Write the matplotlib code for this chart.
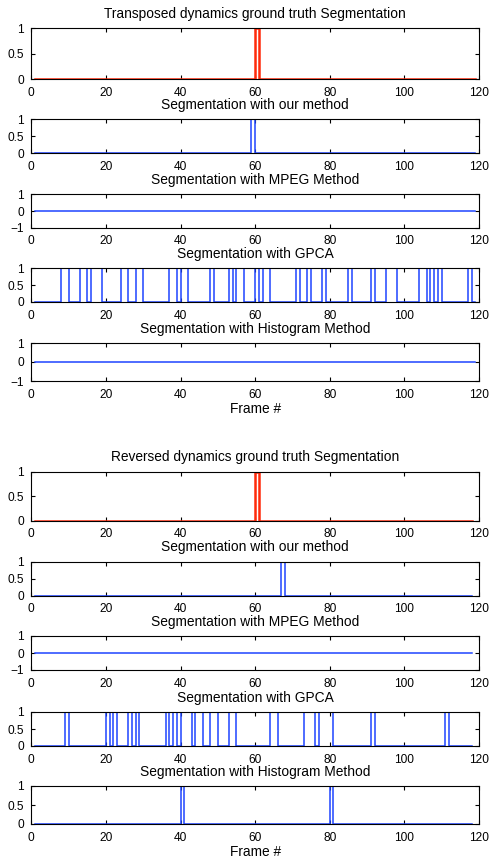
import matplotlib
matplotlib.use("Agg")
import matplotlib.pyplot as plt

plt.rcParams['font.family'] = ['Liberation Sans', 'DejaVu Sans']

# ---------------- data (pulse intervals: signal = 1 between start and end) -------------
frames_top_end = 119
frames_bot_end = 118

top_truth = [(60, 61)]
top_ours = [(59, 60)]
top_mpeg = []
top_gpca = [(8, 10), (13, 15), (16, 19), (24, 26), (28, 30), (37, 39), (40, 42),
            (48, 49), (53, 54), (55, 57), (60, 61), (62, 64), (71, 72), (74, 75),
            (78, 79), (85, 86), (91, 92), (95, 98), (104, 106), (107, 108),
            (109, 110), (117, 118)]
top_hist = []

bot_truth = [(60, 61)]
bot_ours = [(67, 68)]
bot_mpeg = []
bot_gpca = [(9, 10), (20, 21), (22, 23), (26, 27), (28, 29), (36, 37), (38, 39),
            (40, 43), (44, 46), (48, 50), (53, 55), (64, 66), (73, 76), (77, 81),
            (91, 92), (111, 112)]
bot_hist = [(40, 41), (80, 81)]

group_titles = ["Transposed dynamics ground truth Segmentation",
                "Reversed dynamics ground truth Segmentation"]
panel_titles = ["Segmentation with our method", "Segmentation with MPEG Method",
                "Segmentation with GPCA", "Segmentation with Histogram Method"]
x_ticks = [0, 20, 40, 60, 80, 100, 120]
y_ticks_01 = [0, 0.5, 1]
y_labels_01 = ["0", "0.5", "1"]
y_ticks_pm = [-1, 0, 1]
y_labels_pm = ["\u22121", "0", "1"]
x_label = "Frame #"

RED = "#FF2A0A"
BLUE = "#1E44FF"


def signal(pulses, end, start=1):
    xs, ys = [start], [0]
    for a, b in pulses:
        xs += [a, a, b, b]
        ys += [0, 1, 1, 0]
    xs.append(end)
    ys.append(0)
    return xs, ys


W, H = 491, 860
fig = plt.figure(figsize=(W / 100, H / 100), dpi=100)

left_px, right_px = 31.3, 479.0

def add_ax(top, bottom):
    return fig.add_axes([left_px / W, 1 - bottom / H, (right_px - left_px) / W, (bottom - top) / H])

groups = [
    dict(rows=[(28.3, 79.0), (119.3, 153.3), (194.3, 227.8), (268.3, 302.0), (343.0, 381.0)],
         data=[top_truth, top_ours, top_mpeg, top_gpca, top_hist],
         pm=[False, False, True, False, True], end=frames_top_end, title=group_titles[0]),
    dict(rows=[(471.7, 520.7), (561.7, 595.7), (636.0, 670.0), (712.0, 746.0), (786.0, 824.0)],
         data=[bot_truth, bot_ours, bot_mpeg, bot_gpca, bot_hist],
         pm=[False, False, True, False, False], end=frames_bot_end, title=group_titles[1]),
]

FS_T = 8.6   # tick labels
FS_L = 9.9   # titles / axis label
for g in groups:
    for i, ((t, b), pulses, pm) in enumerate(zip(g["rows"], g["data"], g["pm"])):
        ax = add_ax(t, b)
        xs, ys = signal(pulses, g["end"])
        if i == 0:
            ax.plot(xs, ys, color=RED, lw=1.8, solid_joinstyle='miter')
        else:
            ax.plot(xs, ys, color=BLUE, lw=1.1, solid_joinstyle='miter')
        ax.set_xlim(0, 120)
        ax.set_xticks(x_ticks)
        ax.set_xticklabels([str(v) for v in x_ticks])
        if pm:
            ax.set_ylim(-1, 1)
            ax.set_yticks(y_ticks_pm)
            ax.set_yticklabels(y_labels_pm)
        else:
            ax.set_ylim(0, 1)
            ax.set_yticks(y_ticks_01)
            ax.set_yticklabels(y_labels_01)
        ax.tick_params(direction='in', length=3, width=0.8, top=True, right=True,
                       labelsize=FS_T, colors='black')
        ax.tick_params(axis='x', pad=5.5)
        ax.tick_params(axis='y', pad=5.5)
        for s in ax.spines.values():
            s.set_linewidth(0.8)
        title = g["title"] if i == 0 else panel_titles[i - 1]
        ax.set_title(title, fontsize=FS_L, pad=7.5)
        if i == 4:
            ax.set_xlabel(x_label, fontsize=FS_L, labelpad=1)

fig.savefig("out.png", dpi=100)
